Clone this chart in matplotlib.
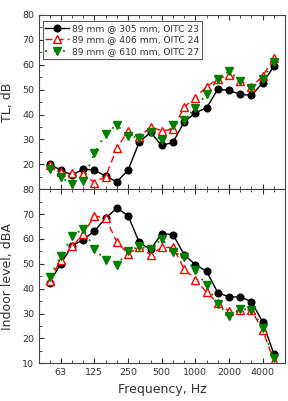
import matplotlib.pyplot as plt
import numpy as np

# 1/3 octave bands 50 Hz - 5000 Hz
freqs = [50, 63, 80, 100, 125, 160, 200, 250, 315, 400, 500, 630,
         800, 1000, 1250, 1600, 2000, 2500, 3150, 4000, 5000]
tick_labels = ['63', '125', '250', '500', '1000', '2000', '4000']
tick_idx = [1, 4, 7, 10, 13, 16, 19]

labels = ['89 mm @ 305 mm, OITC 23',
          '89 mm @ 406 mm, OITC 24',
          '89 mm @ 610 mm, OITC 27']

# transmission loss, dB
tl_305 = [20, 17.7, 15.7, 18.1, 17.7, 15.3, 13, 17.7, 29, 32.8, 27.6, 28.8,
          37, 40.7, 42.7, 50.1, 49.7, 48.1, 47.7, 52.7, 59.3]
tl_406 = [19.8, 17, 16.4, 16.1, 12.7, 15.1, 26.5, 33.4, 31, 35, 33.5, 34,
          43, 46.8, 51.2, 54.3, 55.8, 53.5, 51, 55.5, 62.5]
tl_610 = [18, 14.8, 12, 13.5, 24.5, 32.3, 35.8, 31.4, 30.7, 32.8, 29.6, 35.7,
          37.8, 42.7, 48.2, 54.1, 57.4, 53.5, 50.5, 54.4, 61]

# indoor level, dBA
in_305 = [42.5, 50, 57.3, 59.7, 63.2, 68.4, 72.4, 69.4, 58.6, 55.8, 62.1, 61.8,
          53.7, 49.7, 47, 38.4, 36.7, 36.7, 34.8, 26.6, 13.7]
in_406 = [43.3, 51.5, 57, 62, 69.3, 68.4, 58.8, 54, 56.8, 53.7, 56.6, 56.6,
          48, 43.7, 38.6, 34.1, 31, 31.4, 31.4, 23.3, 11]
in_610 = [44.6, 53, 61.3, 64, 56.1, 51.5, 49.6, 55, 57, 55.8, 60.1, 54.8,
          52.8, 47.4, 41.3, 34, 29, 31.7, 31.6, 24.4, 12]

x = np.arange(len(freqs))
txt = '#333333'

fig = plt.figure(figsize=(2.88, 4.01), dpi=100)
ax1 = fig.add_axes([0.135, 0.528, 0.855, 0.435])
ax2 = fig.add_axes([0.135, 0.094, 0.855, 0.434])


def draw(ax, a, b, c):
    ax.plot(x, a, '-', color='black', lw=1, marker='o', ms=4.8,
            label=labels[0])
    ax.plot(x, b, '--', color='red', lw=1, marker='^', ms=5.2,
            mfc='white', mec='red', dashes=(5, 3), label=labels[1])
    ax.plot(x, c, ':', color='green', lw=1.3, marker='v', ms=5.2,
            mfc='green', mec='green', dashes=(1, 4), label=labels[2])
    ax.set_xlim(-0.95, 21)
    ax.set_xticks(tick_idx)
    ax.set_xticks(x, minor=True)
    ax.tick_params(which='both', direction='in', top=True, right=False,
                   labelsize=6.8, labelcolor=txt, color=txt)
    ax.tick_params(which='major', length=3.5)
    ax.tick_params(which='minor', length=2.5)


draw(ax1, tl_305, tl_406, tl_610)
ax1.set_ylim(10, 80)
ax1.set_yticks(np.arange(20, 81, 10))
ax1.set_yticks(np.arange(15, 80, 5), minor=True)
ax1.set_xticklabels([])
ax1.set_ylabel('TL, dB', fontsize=9, color=txt)
leg = ax1.legend(loc='upper left', fontsize=6.6, frameon=True, fancybox=False,
                 edgecolor='#333333', borderpad=0.3, labelspacing=0.3,
                 handlelength=2.6, handletextpad=0.3, borderaxespad=0.4,
                 bbox_to_anchor=(0.0, 0.985))
leg.get_frame().set_linewidth(0.8)
for t in leg.get_texts():
    t.set_color(txt)

draw(ax2, in_305, in_406, in_610)
ax2.set_ylim(10, 80)
ax2.set_yticks(np.arange(10, 81, 10))
ax2.set_yticks(np.arange(15, 80, 5), minor=True)
ax2.set_xticklabels(tick_labels)
ax2.set_ylabel('Indoor level, dBA', fontsize=9, color=txt)
ax2.set_xlabel('Frequency, Hz', fontsize=9, color=txt)

for ax in (ax1, ax2):
    ax.yaxis.set_label_coords(-0.1, 0.5)
    for s in ax.spines.values():
        s.set_linewidth(0.8)
        s.set_color('#444444')

fig.savefig('out.png', dpi=100)
